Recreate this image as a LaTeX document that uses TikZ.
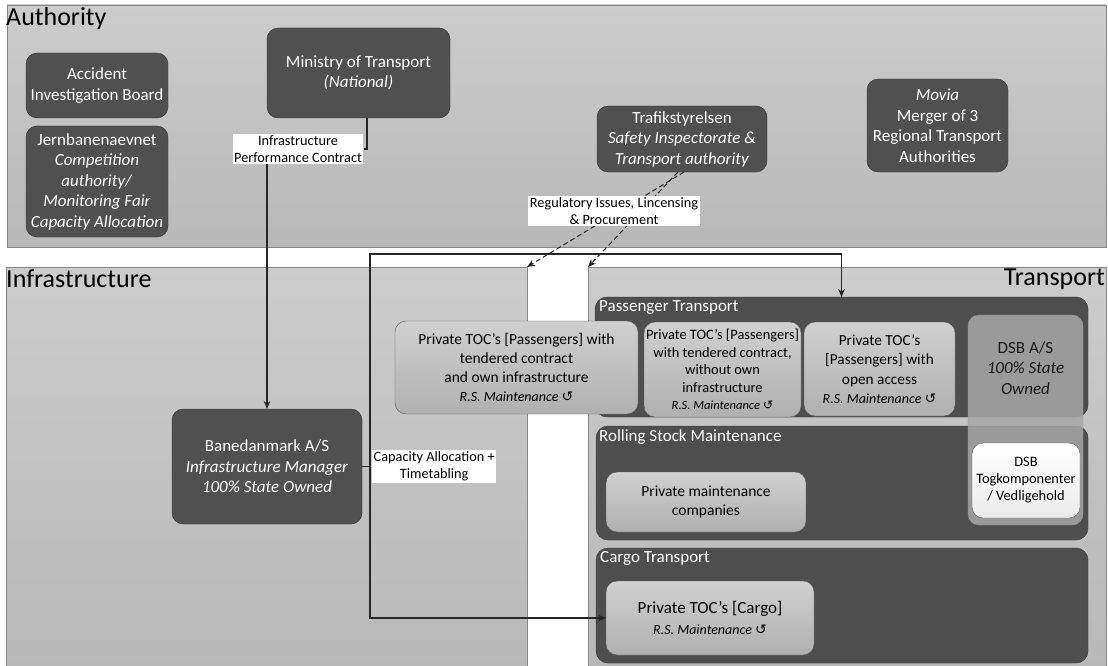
\documentclass[tikz,border=0pt]{standalone}
\usepackage{fontspec}
\setmainfont{Carlito}
\newfontfamily\symfont{DejaVu Sans}
\usepackage{tikz}
\usetikzlibrary{arrows.meta}
\usetikzlibrary{positioning,calc}
\definecolor{paneltop}{RGB}{204,204,204}
\definecolor{panelbot}{RGB}{184,184,184}
\definecolor{paneledge}{RGB}{135,135,135}
\definecolor{boxdark}{RGB}{80,80,80}
\definecolor{boxedge}{RGB}{50,50,50}
\definecolor{groupdark}{RGB}{78,78,78}
\definecolor{lighttop}{RGB}{208,208,208}
\definecolor{lightbot}{RGB}{176,176,176}
\definecolor{dsbgray}{RGB}{168,168,168}
\newcommand{\rsmaint}[1][14]{{\fontsize{#1}{18}\selectfont\itshape R.S. Maintenance
  {\symfont\fontsize{#1}{18}\selectfont ↺}}}
\tikzset{
  panel/.style={draw=paneledge, top color=paneltop, bottom color=panelbot},
  heading/.style={font=\fontsize{26}{31}\selectfont, inner sep=1pt, text=black},
  darkbox/.style={draw=boxedge, fill=boxdark, rounded corners=11pt, text=white,
    align=center, anchor=north west, outer sep=0pt, inner sep=2pt,
    font=\fontsize{17}{20.5}\selectfont},
  groupbox/.style={draw=boxedge, fill=groupdark, rounded corners=12pt,
    anchor=north west, outer sep=0pt},
  grouplbl/.style={text=white, anchor=north west, inner sep=1pt,
    font=\fontsize{17}{20}\selectfont},
  lightbox/.style={draw=boxedge!80, top color=lighttop, bottom color=lightbot,
    rounded corners=11pt, align=center, anchor=north west, outer sep=0pt,
    inner sep=2pt, font=\fontsize{15.5}{19}\selectfont},
  tag/.style={fill=white, align=center, inner sep=1.5pt,
    font=\fontsize{14.3}{17}\selectfont},
  link/.style={line width=1.2pt, draw=black!85},
  arrowlink/.style={link, -{Stealth[length=8pt,width=6.5pt]}},
  dashlink/.style={line width=1pt, draw=black!85, dash pattern=on 5pt off 3pt,
    -{Stealth[length=8pt,width=6.5pt]}},
}
\begin{document}
\begin{tikzpicture}[x=1pt,y=-1pt]
  \useasboundingbox (0,0) rectangle (1108,666);
  % panels
  \draw[panel] (7,5) rectangle (1106,247);
  \node[heading,anchor=north west] (authlbl) at (5,6) {Authority};
  \draw[panel] (6,267) rectangle (527,670);
  \node[heading,anchor=north west] (infralbl) at (5,268) {Infrastructure};
  \draw[panel] (588,267) rectangle (1106,670);
  \node[heading,anchor=north east] (translbl) at (1106,268) {Transport};
  \coordinate (infraNE) at (527,267);
  \coordinate (transNW) at (588,267);

  % authority boxes
  \node[darkbox,minimum width=142pt,minimum height=65pt] (acc) at (26,53)
    {Accident\\Investigation Board};
  \node[darkbox,minimum width=142pt,minimum height=111pt] (jbn) at (26,126)
    {Jernbanenaevnet\\\textit{Competition}\\\textit{authority/}\\
     \textit{Monitoring Fair}\\\textit{Capacity Allocation}};
  \node[darkbox,minimum width=183pt,minimum height=90pt] (mot) at (267,28)
    {Ministry of Transport\\\textit{(National)}};
  \node[darkbox,minimum width=170pt,minimum height=66pt] (trf) at (597,106)
    {Trafikstyrelsen\\\textit{Safety Inspectorate \&}\\\textit{Transport authority}};
  \node[darkbox,minimum width=141pt,minimum height=93pt] (movia) at (867,79)
    {\textit{Movia}\\Merger of 3\\Regional Transport\\Authorities};

  % infrastructure
  \node[darkbox,minimum width=190pt,minimum height=115pt] (bdk) at (172,409)
    {Banedanmark A/S\\\textit{Infrastructure Manager}\\\textit{100\% State Owned}};

  % transport groups
  \node[groupbox,minimum width=493pt,minimum height=120pt] (ptg) at (595,297) {};
  \node[grouplbl] (ptglbl) at (598,299) {Passenger Transport};
  \node[groupbox,minimum width=492pt,minimum height=114pt] (rsg) at (596,426) {};
  \node[grouplbl] (rsglbl) at (598,428) {Rolling Stock Maintenance};
  \node[groupbox,minimum width=492pt,minimum height=115pt] (cgg) at (596,548) {};
  \node[grouplbl] (cgglbl) at (599,550) {Cargo Transport};

  \node[lightbox,minimum width=243pt,minimum height=93pt] (toca) at (395,321)
    {Private TOC’s [Passengers] with\\tendered contract\\and own infrastructure\\\rsmaint};
  \node[lightbox,minimum width=156pt,minimum height=95pt,
    font=\fontsize{14.4}{17.5}\selectfont] (tocb) at (644,322)
    {Private TOC’s [Passengers]\\with tendered contract,\\without own\\infrastructure\\\rsmaint[12.5]};
  \node[lightbox,minimum width=151pt,minimum height=94pt,
    font=\fontsize{15.3}{19.5}\selectfont] (tocc) at (804,322)
    {Private TOC’s\\{}[Passengers] with\\open access\\\rsmaint};
  \node[lightbox,minimum width=200pt,minimum height=60pt,
    font=\fontsize{15.5}{19.5}\selectfont] (pmc) at (606,472)
    {Private maintenance\\companies};
  \node[lightbox,minimum width=208pt,minimum height=74pt,
    font=\fontsize{17}{21}\selectfont] (cargo) at (606,581)
    {Private TOC’s [Cargo]\\\rsmaint};

  % DSB overlay
  \node[draw=boxedge!50,fill=dsbgray,fill opacity=0.85,rounded corners=11pt,
    anchor=north west,outer sep=0pt,minimum width=115pt,minimum height=210pt]
    (dsb) at (968,315) {};
  \node[align=center,text=black!90,font=\fontsize{17}{20.5}\selectfont]
    (dsblbl) at (1025.5,368) {DSB A/S\\\textit{100\% State}\\\textit{Owned}};
  \node[lightbox,top color=white,bottom color=black!8,minimum width=108pt,
    minimum height=75pt,font=\fontsize{14.4}{17}\selectfont] (dsbt) at (972,443)
    {DSB\\Togkomponenter\\/ Vedligehold};

  % connectors
  \node[tag] (ipc) at (298,149) {Infrastructure\\Performance Contract};
  \coordinate (motleg) at (367,118);
  \draw[link] (motleg) |- (ipc.east);
  \draw[arrowlink] (ipc.south -| bdk.north) -- (bdk.north);

  \coordinate (captop) at (370,254);
  \draw[link] (bdk.east) -- (bdk.east -| captop);
  \draw[arrowlink] (bdk.east -| captop) -- (captop) -| (ptg.north);
  \draw[arrowlink] (bdk.east -| captop) |- (cargo.west);
  \node[tag,anchor=west] (cap) at (372,466.5) {Capacity Allocation +\\Timetabling};

  \draw[dashlink] ([xshift=2pt]trf.south) -- (infraNE);
  \draw[dashlink] ([xshift=-4pt]trf.south) -- (transNW);
  \node[tag] (reg) at (614,211) {Regulatory Issues, Lincensing\\\& Procurement};
\end{tikzpicture}
\end{document}
